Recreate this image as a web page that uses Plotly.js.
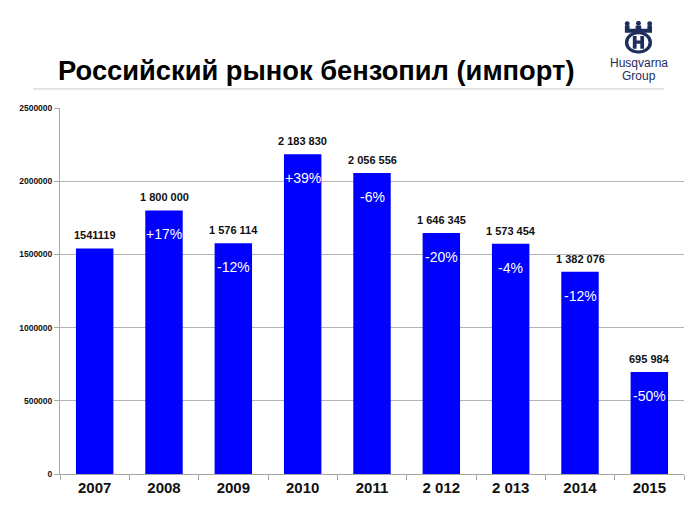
<!DOCTYPE html>
<html>
<head>
<meta charset="utf-8">
<script src="https://cdn.plot.ly/plotly-3.0.1.min.js"></script>
<style>html,body{margin:0;padding:0;background:#fff;}#chart{width:700px;height:525px;}</style>
</head>
<body>
<div id="chart"></div>
<script>
const categories = ["2007", "2008", "2009", "2010", "2011", "2 012", "2 013", "2014", "2015"];
const values = [1541119, 1800000, 1576114, 2183830, 2056556, 1646345, 1573454, 1382076, 695984];
const valueLabels = ["1541119", "1 800 000", "1 576 114", "2 183 830", "2 056 556", "1 646 345", "1 573 454", "1 382 076", "695 984"];
const changeLabels = ["", "+17%", "-12%", "+39%", "-6%", "-20%", "-4%", "-12%", "-50%"];
const yTicks = [0, 500000, 1000000, 1500000, 2000000, 2500000];

const navy = "#1d2d5c";
const logoSvg = "<svg xmlns='http://www.w3.org/2000/svg' viewBox='0 0 32 36'>" +
  "<g fill='" + navy + "'>" +
  "<circle cx='4' cy='3' r='2.6'/><circle cx='16' cy='2.6' r='2.6'/><circle cx='28' cy='3' r='2.6'/>" +
  "<path d='M1.5 5 L6.5 5 L6.5 8.5 L13 8.5 L13 5 L19 5 L19 8.5 L25.5 8.5 L25.5 5 L30.5 5 L30.5 13 L1.5 13 Z'/>" +
  "<ellipse cx='16' cy='23.5' rx='14.5' ry='12.3'/></g>" +
  "<ellipse cx='16' cy='23.5' rx='10.8' ry='9' fill='white'/>" +
  "<path d='M10 16.5 h4 v5 h4 v-5 h4 v14 h-4 v-5.5 h-4 v5.5 h-4 z' fill='" + navy + "'/>" +
  "</svg>";
const logoUri = "data:image/svg+xml;charset=utf-8," + encodeURIComponent(logoSvg);

const annotations = [];
categories.forEach((c, i) => {
  annotations.push({
    x: i, y: values[i], xref: "x", yref: "y",
    text: valueLabels[i], showarrow: false,
    yanchor: "bottom", yshift: 5,
    font: {family: "Liberation Sans, Arial, sans-serif", size: 11, color: "#111", weight: "bold"}
  });
  if (changeLabels[i]) {
    annotations.push({
      x: i, y: values[i], xref: "x", yref: "y",
      text: changeLabels[i], showarrow: false,
      yanchor: "middle", yshift: -24,
      font: {family: "Liberation Sans, Arial, sans-serif", size: 14, color: "#ffffff"}
    });
  }
});
annotations.push({
  xref: "paper", yref: "paper", x: 0.928, y: 1.122, xanchor: "center", yanchor: "middle",
  text: "Husqvarna", showarrow: false,
  font: {family: "Liberation Sans Narrow, Liberation Sans, Arial, sans-serif", size: 12, color: navy}
});
annotations.push({
  xref: "paper", yref: "paper", x: 0.928, y: 1.087, xanchor: "center", yanchor: "middle",
  text: "Group", showarrow: false,
  font: {family: "Liberation Sans Narrow, Liberation Sans, Arial, sans-serif", size: 12, color: navy}
});

const trace = {
  type: "bar", x: categories, y: values,
  marker: {color: "#0000ff", line: {width: 0}},
  hoverinfo: "none"
};

const layout = {
  width: 700, height: 525,
  margin: {l: 60, r: 16, t: 108, b: 51},
  paper_bgcolor: "#ffffff", plot_bgcolor: "#ffffff",
  showlegend: false,
  bargap: 0.46,
  title: {
    text: "Российский рынок бензопил (импорт)",
    xref: "container", yref: "container",
    x: 0.083, xanchor: "left", y: 1 - 70 / 525, yanchor: "middle",
    font: {family: "Liberation Sans, Arial, sans-serif", size: 27.3, color: "#000", weight: "bold"}
  },
  xaxis: {
    type: "category",
    range: [-0.5, 8.5],
    showline: true, linecolor: "#a6a6a6", linewidth: 1,
    ticks: "outside", tickson: "boundaries", ticklen: 5, tickcolor: "#a6a6a6",
    tickfont: {family: "Liberation Sans, Arial, sans-serif", size: 15, color: "#111", weight: "bold"},
    tickangle: 0,
    showgrid: false, zeroline: false
  },
  yaxis: {
    range: [0, 2500000],
    tickvals: yTicks, ticktext: yTicks.map(v => String(v)),
    showline: true, linecolor: "#a6a6a6", linewidth: 1,
    ticks: "outside", ticklen: 5, tickcolor: "#a6a6a6",
    showgrid: true, gridcolor: "#b4b4b4", gridwidth: 1,
    zeroline: false,
    tickfont: {family: "Liberation Sans, Arial, sans-serif", size: 8.5, color: "#111", weight: "bold"}
  },
  shapes: [
    {type: "line", xref: "paper", yref: "paper", x0: -0.043, x1: 0.968, y0: 1.052, y1: 1.052,
     line: {color: "#c8c8c8", width: 1}}
  ],
  images: [
    {source: logoUri, xref: "paper", yref: "paper", x: 0.903, y: 1.238,
     sizex: 0.048, sizey: 0.09, sizing: "stretch", xanchor: "left", yanchor: "top", layer: "above"}
  ],
  annotations: annotations
};

Plotly.newPlot("chart", [trace], layout, {displayModeBar: false, staticPlot: true});
</script>
</body>
</html>
